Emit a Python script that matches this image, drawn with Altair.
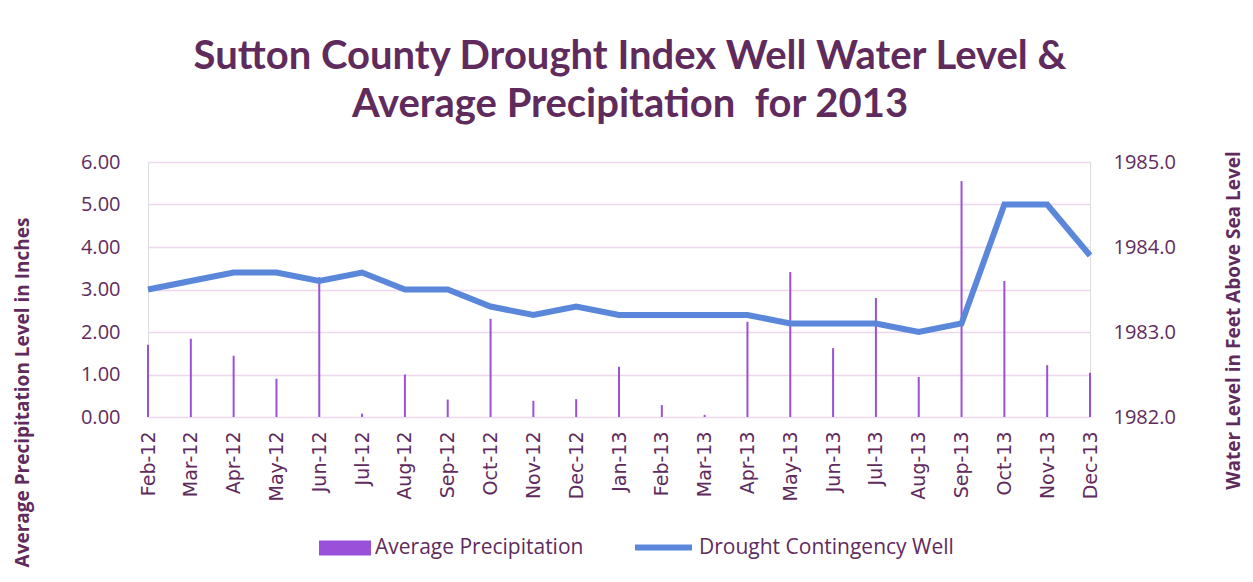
import altair as alt
import pandas as pd

months = ["Feb-12", "Mar-12", "Apr-12", "May-12", "Jun-12", "Jul-12", "Aug-12", "Sep-12",
          "Oct-12", "Nov-12", "Dec-12", "Jan-13", "Feb-13", "Mar-13", "Apr-13", "May-13",
          "Jun-13", "Jul-13", "Aug-13", "Sep-13", "Oct-13", "Nov-13", "Dec-13"]
precip = [1.70, 1.84, 1.44, 0.90, 3.29, 0.08, 1.00, 0.41, 2.31, 0.38, 0.42, 1.18,
          0.28, 0.05, 2.24, 3.41, 1.62, 2.80, 0.94, 5.55, 3.20, 1.22, 1.04]
well = [1983.5, 1983.6, 1983.7, 1983.7, 1983.6, 1983.7, 1983.5, 1983.5, 1983.3, 1983.2,
        1983.3, 1983.2, 1983.2, 1983.2, 1983.2, 1983.1, 1983.1, 1983.1, 1983.0, 1983.1,
        1984.5, 1984.5, 1983.9]
left_ticks = [0, 1, 2, 3, 4, 5, 6]
right_ticks = [1982, 1983, 1984, 1985]

df = pd.DataFrame({"month": months, "precip": precip, "well": well})

TXT = "#5f2b5d"
GRID = "#eed8ee"

x = alt.X("month:N", sort=months, scale=alt.Scale(type="point", padding=0),
          axis=alt.Axis(title=None, labelAngle=270, labelFont="DejaVu Sans", labelFontSize=19,
                        labelColor=TXT, labelPadding=14, ticks=False, domain=False,
                        labelAlign="right", labelBaseline="middle"))

bars = alt.Chart(df).mark_bar(size=2).encode(
    x=x,
    y=alt.Y("precip:Q", scale=alt.Scale(domain=[0, 6], nice=False),
            axis=alt.Axis(values=left_ticks, format=".2f", title="Average Precipitation Level in Inches",
                          labelFont="Open Sans", labelFontSize=20, labelColor=TXT, labelPadding=28,
                          ticks=False, domain=False, grid=True, gridColor=GRID, gridWidth=1.5,
                          titleFont="Open Sans", titleFontWeight="bold", titleFontSize=19,
                          titleColor=TXT, titleAngle=270, titleX=-126, titleY=230,
                          titleAlign="center", titleBaseline="middle")),
    color=alt.Color("s:N", scale=alt.Scale(domain=["Average Precipitation"], range=["#9b50d9"]),
                    legend=alt.Legend(title=None, orient="none", legendX=171, legendY=360,
                                      symbolType="M-1,-0.29H1V0.29H-1Z", symbolSize=2704,
                                      symbolStrokeWidth=0, labelFont="Open Sans", labelFontSize=21,
                                      labelColor=TXT, labelOffset=4, padding=0, labelLimit=0)),
).transform_calculate(s="'Average Precipitation'")

line = alt.Chart(df).mark_line(strokeWidth=6, strokeJoin="miter").encode(
    x=x,
    y=alt.Y("well:Q", scale=alt.Scale(domain=[1982, 1985], nice=False),
            axis=alt.Axis(values=right_ticks, format=".1f", orient="right",
                          title="Water Level in Feet Above Sea Level",
                          labelFont="Open Sans", labelFontSize=20, labelColor=TXT, labelPadding=23,
                          ticks=False, domain=False, grid=False,
                          titleFont="Open Sans", titleFontWeight="bold", titleFontSize=19,
                          titleColor=TXT, titleAngle=270, titleX=143, titleY=158,
                          titleAlign="center", titleBaseline="middle")),
    stroke=alt.Stroke("s:N", scale=alt.Scale(domain=["Drought Contingency Well"], range=["#5b87da"]),
                      legend=alt.Legend(title=None, orient="none", legendX=484, legendY=354,
                                        symbolType="stroke", symbolSize=3249, symbolStrokeWidth=6,
                                        labelFont="Open Sans", labelFontSize=21,
                                        labelColor=TXT, labelOffset=4, padding=0, labelLimit=0)),
).transform_calculate(s="'Drought Contingency Well'")

chart = alt.layer(bars, line).resolve_scale(y="independent", color="independent").properties(
    width=942, height=255,
    title=alt.TitleParams(["Sutton County Drought Index Well Water Level &",
                           "Average Precipitation\u00a0 for 2013"],
                          font="Lato", fontSize=40, fontWeight="bold", color=TXT,
                          anchor="middle", dx=11, lineHeight=48, offset=26),
    autosize=alt.AutoSizeParams(type="none"),
    padding={"left": 140, "top": 154, "right": 155, "bottom": 157},
).configure_view(stroke=None).configure(background="white")

chart.save("out.html", embed_options={"renderer": "svg", "actions": False})
